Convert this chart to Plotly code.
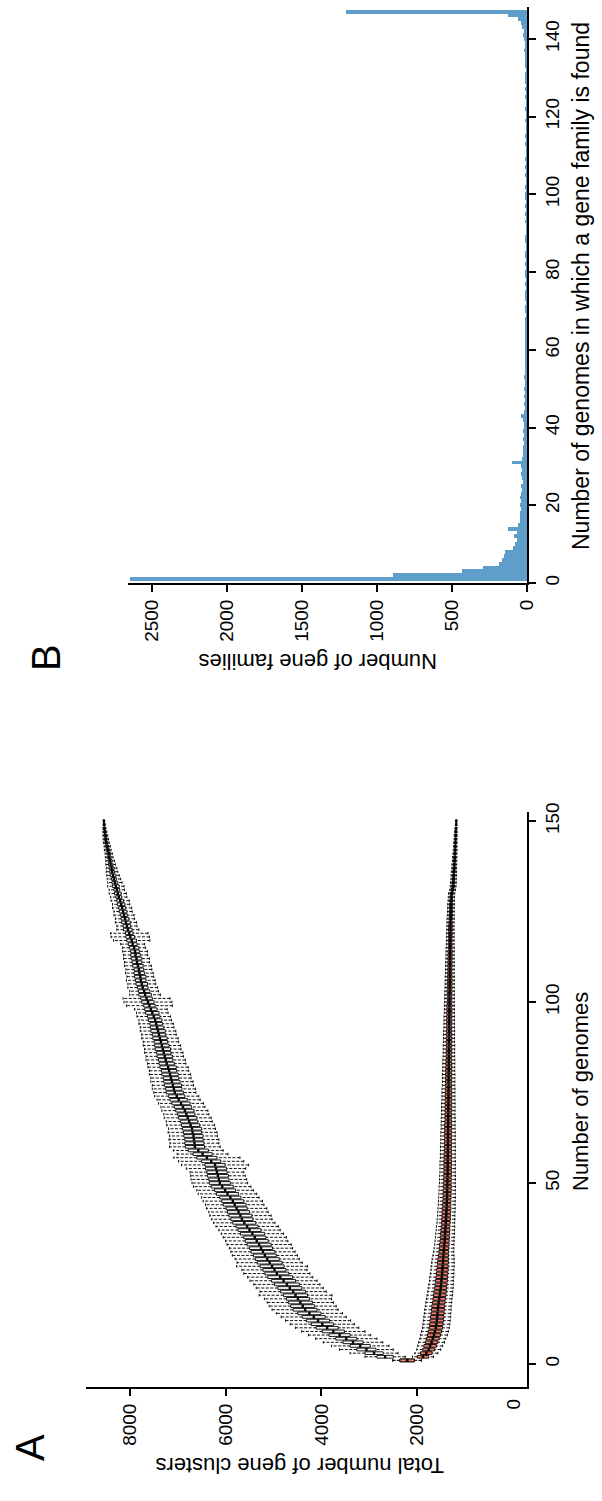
import plotly.graph_objects as go

W, H = 602, 1501
def px(x): return x / W
def py(y): return 1 - y / H

# ---------------- Panel A data: pan- and core-genome box statistics ----------------
genomes = list(range(1, 151))

pan_median = [
    2210, 2670, 2900, 3060, 3190, 3340, 3480, 3620, 3750, 3880,
    3980, 4070, 4160, 4250, 4340, 4390, 4440, 4490, 4540, 4590,
    4660, 4720, 4790, 4860, 4930, 4980, 5030, 5080, 5130, 5180,
    5220, 5260, 5300, 5350, 5390, 5440, 5500, 5550, 5610, 5660,
    5690, 5730, 5770, 5810, 5850, 5900, 5960, 6010, 6070, 6120,
    6140, 6160, 6180, 6200, 6220, 6300, 6390, 6480, 6570, 6640,
    6650, 6660, 6670, 6690, 6700, 6730, 6760, 6790, 6820, 6850,
    6890, 6930, 6980, 7020, 7060, 7080, 7100, 7120, 7140, 7160,
    7180, 7200, 7230, 7250, 7270, 7290, 7310, 7330, 7350, 7370,
    7390, 7410, 7430, 7450, 7470, 7500, 7530, 7560, 7590, 7620,
    7650, 7680, 7700, 7730, 7750, 7770, 7780, 7800, 7810, 7830,
    7850, 7860, 7880, 7890, 7910, 7940, 7960, 7990, 8010, 8040,
    8060, 8080, 8100, 8120, 8140, 8160, 8180, 8200, 8230, 8250,
    8270, 8290, 8310, 8330, 8350, 8370, 8380, 8400, 8410, 8430,
    8440, 8460, 8470, 8490, 8500, 8510, 8520, 8530, 8535, 8540,
]
pan_box_half = [
    150, 170, 190, 200, 210, 210, 220, 220, 230, 230,
    230, 240, 240, 240, 250, 250, 250, 240, 250, 260,
    250, 260, 250, 260, 250, 240, 250, 260, 250, 240,
    250, 240, 250, 240, 230, 250, 240, 230, 240, 230,
    240, 230, 220, 240, 230, 220, 230, 220, 230, 220,
    210, 220, 210, 220, 210, 200, 210, 200, 210, 200,
    200, 190, 200, 190, 200, 190, 180, 190, 180, 190,
    180, 190, 180, 170, 180, 170, 180, 170, 160, 170,
    160, 170, 160, 150, 160, 150, 160, 150, 140, 150,
    140, 150, 140, 130, 140, 130, 140, 130, 120, 130,
    120, 130, 120, 110, 120, 110, 120, 110, 100, 110,
    100, 110, 100, 90, 100, 90, 100, 90, 80, 90,
    80, 90, 80, 70, 80, 70, 80, 70, 60, 70,
    60, 70, 60, 50, 60, 50, 50, 45, 40, 40,
    35, 35, 30, 30, 25, 25, 20, 15, 10, 5,
]
pan_whisker = [
    300, 420, 500, 560, 600, 620, 640, 650, 660, 660,
    670, 680, 680, 690, 690, 700, 690, 700, 760, 690,
    700, 690, 700, 680, 690, 680, 740, 680, 670, 680,
    670, 660, 670, 650, 660, 650, 640, 650, 640, 630,
    640, 620, 630, 610, 620, 600, 610, 590, 600, 580,
    580, 570, 560, 620, 700, 680, 690, 530, 520, 530,
    510, 520, 500, 510, 490, 500, 480, 490, 470, 480,
    460, 470, 450, 460, 440, 450, 430, 440, 420, 430,
    410, 420, 400, 410, 390, 400, 380, 390, 370, 380,
    360, 370, 350, 360, 340, 350, 330, 340, 480, 500,
    490, 320, 300, 310, 290, 300, 280, 290, 270, 280,
    260, 270, 250, 260, 240, 250, 380, 400, 390, 230,
    210, 220, 200, 210, 190, 200, 180, 190, 170, 180,
    160, 170, 150, 140, 130, 120, 110, 100, 90, 80,
    75, 70, 65, 60, 55, 50, 40, 30, 20, 10,
]
core_median = [
    2210, 1880, 1810, 1760, 1730, 1700, 1675, 1650, 1630, 1610,
    1600, 1590, 1582, 1575, 1568, 1560, 1550, 1540, 1530, 1520,
    1510, 1502, 1495, 1488, 1480, 1474, 1468, 1463, 1458, 1452,
    1446, 1440, 1434, 1428, 1422, 1417, 1412, 1407, 1402, 1398,
    1394, 1390, 1387, 1384, 1381, 1378, 1376, 1374, 1372, 1370,
    1368, 1367, 1366, 1365, 1364, 1363, 1362, 1361, 1360, 1359,
    1358, 1357, 1356, 1356, 1355, 1354, 1353, 1352, 1352, 1351,
    1350, 1349, 1348, 1348, 1347, 1346, 1345, 1344, 1344, 1343,
    1342, 1341, 1340, 1340, 1339, 1338, 1337, 1336, 1336, 1335,
    1334, 1333, 1332, 1332, 1331, 1330, 1329, 1328, 1328, 1327,
    1326, 1325, 1324, 1323, 1322, 1321, 1320, 1319, 1318, 1317,
    1316, 1315, 1314, 1313, 1312, 1311, 1310, 1309, 1308, 1307,
    1306, 1304, 1302, 1300, 1298, 1296, 1293, 1290, 1286, 1280,
    1262, 1250, 1245, 1240, 1236, 1232, 1228, 1224, 1220, 1216,
    1212, 1208, 1205, 1202, 1199, 1196, 1193, 1190, 1187, 1185,
]
core_box_half = [
    150, 120, 120, 125, 130, 130, 135, 135, 140, 140,
    140, 140, 140, 135, 135, 135, 130, 130, 130, 130,
    125, 125, 125, 120, 120, 120, 115, 115, 110, 105,
    100, 100, 100, 95, 95, 95, 95, 90, 90, 90,
    90, 90, 90, 85, 85, 85, 85, 85, 85, 80,
    80, 80, 80, 80, 80, 80, 80, 80, 75, 75,
    75, 75, 75, 75, 75, 75, 70, 70, 70, 70,
    70, 70, 70, 70, 70, 65, 65, 65, 65, 65,
    65, 65, 65, 60, 60, 60, 60, 60, 60, 60,
    60, 55, 55, 55, 55, 55, 55, 55, 55, 50,
    50, 50, 50, 50, 50, 50, 50, 45, 45, 45,
    45, 45, 45, 45, 40, 40, 40, 40, 40, 40,
    40, 35, 35, 35, 35, 35, 35, 30, 30, 30,
    30, 30, 30, 25, 25, 25, 25, 20, 20, 20,
    20, 15, 15, 15, 10, 10, 10, 5, 5, 5,
]
core_whisker = [
    300, 220, 240, 250, 260, 270, 270, 280, 280, 280,
    280, 280, 280, 275, 275, 270, 270, 265, 265, 260,
    260, 255, 250, 250, 245, 240, 240, 235, 230, 220,
    210, 205, 200, 200, 195, 195, 190, 190, 185, 185,
    180, 180, 180, 175, 175, 175, 170, 170, 170, 165,
    165, 165, 160, 160, 160, 160, 155, 155, 155, 155,
    150, 150, 150, 150, 145, 145, 145, 145, 140, 140,
    140, 140, 135, 135, 135, 135, 130, 130, 130, 130,
    125, 125, 125, 125, 120, 120, 120, 120, 115, 115,
    115, 115, 110, 110, 110, 110, 105, 105, 105, 100,
    100, 100, 100, 95, 95, 95, 95, 90, 90, 90,
    90, 85, 85, 85, 85, 80, 80, 80, 80, 75,
    75, 75, 75, 70, 70, 70, 70, 65, 65, 65,
    60, 60, 60, 55, 55, 55, 50, 50, 45, 45,
    40, 40, 35, 35, 30, 30, 25, 20, 15, 10,
]

# ---------------- Panel B data: gene family frequency histogram ----------------
presence_bins = list(range(1, 148))
family_counts = [
    2650, 893, 433, 293, 187, 167, 153, 150, 93, 80,
    67, 87, 67, 127, 60, 50, 47, 45, 42, 48,
    40, 45, 38, 35, 42, 30, 36, 40, 33, 38,
    100, 32, 28, 25, 30, 22, 26, 20, 24, 18,
    22, 28, 42, 20, 16, 18, 14, 22, 15, 17,
    14, 12, 18, 15, 11, 13, 10, 12, 9, 14,
    10, 8, 12, 9, 7, 11, 8, 10, 6, 9,
    8, 6, 12, 7, 9, 6, 8, 5, 7, 10,
    6, 8, 5, 7, 9, 4, 6, 8, 14, 5,
    6, 4, 7, 5, 8, 6, 9, 5, 12, 7,
    5, 14, 6, 4, 7, 5, 8, 6, 10, 5,
    6, 4, 8, 5, 7, 4, 6, 5, 9, 6,
    5, 7, 4, 6, 8, 5, 10, 6, 7, 12,
    8, 6, 10, 14, 9, 12, 20, 10, 15, 18,
    25, 20, 35, 40, 60, 127, 1207,
]

A_value_ticks = [2000, 4000, 6000, 8000]   # the 0 label has no tick mark
A_zero_label = 0
A_genome_ticks = [0, 50, 100, 150]
B_count_ticks = [0, 500, 1000, 1500, 2000, 2500]
B_genome_ticks = [0, 20, 40, 60, 80, 100, 120, 140]

FONT = "Liberation Sans, Arial, sans-serif"
TICK_SIZE = 19
BOXW = 0.75
SALMON = "#F4806E"
BLUE = "#5F9DCB"

fig = go.Figure()


def add_series(median, box_half, whisker, fill):
    q1 = [m - b for m, b in zip(median, box_half)]
    q3 = [m + b for m, b in zip(median, box_half)]
    lo = [m - w for m, w in zip(median, whisker)]
    hi = [m + w for m, w in zip(median, whisker)]
    wx, wy, cx, cy, mx, my = [], [], [], [], [], []
    for n, a, b, c, d, m in zip(genomes, lo, q1, q3, hi, median):
        wx += [a, b, None, c, d, None]
        wy += [n, n, None, n, n, None]
        cx += [a, a, None, d, d, None]
        cy += [n - 0.35, n + 0.35, None, n - 0.35, n + 0.35, None]
        mx += [m, m, None]
        my += [n - BOXW / 2, n + BOXW / 2, None]
    fig.add_trace(go.Scatter(x=wx, y=wy, mode="lines", hoverinfo="skip",
                             line=dict(color="#111111", width=1.0, dash="3px,1.5px"),
                             showlegend=False, xaxis="x", yaxis="y"))
    fig.add_trace(go.Scatter(x=cx, y=cy, mode="lines", hoverinfo="skip",
                             line=dict(color="#111111", width=1.0),
                             showlegend=False, xaxis="x", yaxis="y"))
    fig.add_trace(go.Box(y=genomes, q1=q1, median=median, q3=q3,
                         lowerfence=q1, upperfence=q3, orientation="h",
                         width=BOXW, whiskerwidth=0, boxpoints=False,
                         fillcolor=fill, line=dict(color="black", width=0.9),
                         showlegend=False, xaxis="x", yaxis="y"))
    fig.add_trace(go.Scatter(x=mx, y=my, mode="lines", hoverinfo="skip",
                             line=dict(color="black", width=2.4),
                             showlegend=False, xaxis="x", yaxis="y"))


add_series(pan_median, pan_box_half, pan_whisker, "white")
add_series(core_median, core_box_half, core_whisker, SALMON)

fig.add_trace(go.Bar(x=family_counts, y=presence_bins, orientation="h", width=1,
                     marker=dict(color=BLUE, line=dict(width=0)),
                     showlegend=False, xaxis="x2", yaxis="y2"))

axis_common = dict(showline=True, linecolor="black", linewidth=2, ticks="outside",
                   ticklen=7, tickwidth=2, tickcolor="black", showgrid=False,
                   zeroline=False, tickangle=-90, automargin=False,
                   tickfont=dict(family=FONT, size=TICK_SIZE, color="black"))

fig.update_layout(
    width=W, height=H, margin=dict(l=0, r=0, t=0, b=0),
    paper_bgcolor="white", plot_bgcolor="white",
    boxmode="overlay", bargap=0,
    font=dict(family=FONT, color="black"),
    xaxis=dict(domain=[px(86), px(527)], range=[8914, -292], anchor="y",
               tickmode="array", tickvals=A_value_ticks, **axis_common),
    yaxis=dict(domain=[py(1387), py(812)], range=[-6.35, 152.5], anchor="x",
               side="right", tickmode="array", tickvals=A_genome_ticks, **axis_common),
    xaxis2=dict(domain=[px(128), px(527)], range=[2660, 0], anchor="y2",
                tickmode="array", tickvals=B_count_ticks, **axis_common),
    yaxis2=dict(domain=[py(583), py(7)], range=[0, 148.2], anchor="x2",
                side="right", tickmode="array", tickvals=B_genome_ticks, **axis_common),
)

# "0" label of the panel-A value axis (drawn without a tick mark, as in the original)
fig.add_annotation(text=str(A_zero_label), x=A_zero_label, xref="x", y=py(1397), yref="paper",
                   showarrow=False, textangle=-90, xanchor="center", yanchor="top",
                   font=dict(family=FONT, size=TICK_SIZE, color="black"))

def label(text, x, y, angle, size):
    fig.add_annotation(text=text, x=px(x), y=py(y), xref="paper", yref="paper",
                       showarrow=False, textangle=angle, xanchor="center", yanchor="middle",
                       font=dict(family=FONT, size=size, color="black"))

label("Number of genomes", 580, 1092, -90, 22)
label("Total number of gene clusters", 300, 1466, 180, 22)
label("A", 30, 1448, -90, 40)
label("Number of genomes in which a gene family is found", 581, 286, -90, 23)
label("Number of gene families", 318, 662, 180, 22)
label("B", 46, 658, -90, 40)

fig.write_html("out.html", config={"displayModeBar": False},
               post_script="document.body.style.margin='0';document.body.style.padding='0';")
